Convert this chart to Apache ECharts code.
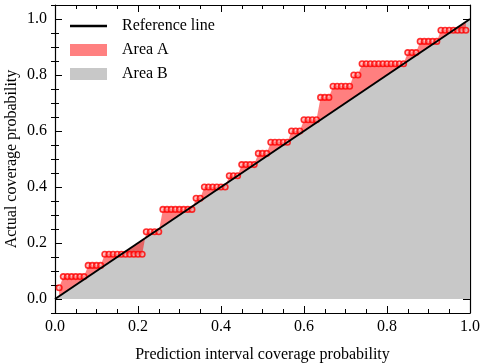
<!DOCTYPE html>
<html>
<head>
<meta charset="utf-8">
<script src="https://cdn.jsdelivr.net/npm/echarts@6/dist/echarts.min.js"></script>
<style>html,body{margin:0;padding:0;background:#fff}#c{width:484px;height:364px}</style>
</head>
<body>
<div id="c"></div>
<script>
// Prediction interval coverage probability (x)
const predicted = [0.01,0.02,0.03,0.04,0.05,0.06,0.07,0.08,0.09,0.10,
  0.11,0.12,0.13,0.14,0.15,0.16,0.17,0.18,0.19,0.20,
  0.21,0.22,0.23,0.24,0.25,0.26,0.27,0.28,0.29,0.30,
  0.31,0.32,0.33,0.34,0.35,0.36,0.37,0.38,0.39,0.40,
  0.41,0.42,0.43,0.44,0.45,0.46,0.47,0.48,0.49,0.50,
  0.51,0.52,0.53,0.54,0.55,0.56,0.57,0.58,0.59,0.60,
  0.61,0.62,0.63,0.64,0.65,0.66,0.67,0.68,0.69,0.70,
  0.71,0.72,0.73,0.74,0.75,0.76,0.77,0.78,0.79,0.80,
  0.81,0.82,0.83,0.84,0.85,0.86,0.87,0.88,0.89,0.90,
  0.91,0.92,0.93,0.94,0.95,0.96,0.97,0.98,0.99];
// Actual coverage probability (y)
const actual = [0.04,0.08,0.08,0.08,0.08,0.08,0.08,0.12,0.12,0.12,
  0.12,0.16,0.16,0.16,0.16,0.16,0.16,0.16,0.16,0.16,
  0.16,0.24,0.24,0.24,0.24,0.32,0.32,0.32,0.32,0.32,
  0.32,0.32,0.32,0.36,0.36,0.40,0.40,0.40,0.40,0.40,
  0.40,0.44,0.44,0.44,0.48,0.48,0.48,0.48,0.52,0.52,
  0.52,0.56,0.56,0.56,0.56,0.56,0.60,0.60,0.60,0.64,
  0.64,0.64,0.64,0.72,0.72,0.72,0.76,0.76,0.76,0.76,
  0.76,0.80,0.80,0.84,0.84,0.84,0.84,0.84,0.84,0.84,
  0.84,0.84,0.84,0.84,0.88,0.88,0.88,0.92,0.92,0.92,
  0.92,0.92,0.96,0.96,0.96,0.96,0.96,0.96,0.96];
// Reference line end points
const refX = [0, 1];
const refY = [0, 1];
// Tick values
const xMajorTicks = [0, 0.2, 0.4, 0.6, 0.8, 1.0];
const yMajorTicks = [0, 0.2, 0.4, 0.6, 0.8, 1.0];
const yMinorTicks = [-0.05,0.05,0.1,0.15,0.25,0.3,0.35,0.45,0.5,0.55,0.65,0.7,0.75,0.85,0.9,0.95,1.05];

const FONT = '"Liberation Serif","Times New Roman","DejaVu Serif",serif';
const pts = predicted.map((x, i) => [x, actual[i]]);
const ref = refX.map((x, i) => [x, refY[i]]);

const majorX = (pos, labels) => ({
  type: 'value', position: pos, min: 0, max: 1, interval: 0.2,
  axisLine: {show: true, onZero: false, lineStyle: {color: '#000', width: 1.2}},
  axisTick: {show: true, inside: true, length: 7, customValues: xMajorTicks, lineStyle: {color: '#000', width: 1}},
  minorTick: {show: true, splitNumber: 4, length: 4, lineStyle: {color: '#000', width: 1}},
  splitLine: {show: false},
  axisLabel: {show: labels, margin: 6, color: '#000', fontSize: 16, fontFamily: FONT,
    formatter: v => v.toFixed(1)}
});
const majorY = (pos, labels) => ({
  type: 'value', position: pos, min: -0.05, max: 1.05,
  axisLine: {show: true, onZero: false, lineStyle: {color: '#000', width: 1.2}},
  axisTick: {show: true, inside: true, length: 7, customValues: yMajorTicks, lineStyle: {color: '#000', width: 1}},
  splitLine: {show: false},
  axisLabel: {show: labels, customValues: yMajorTicks, margin: 8, color: '#000', fontSize: 16, fontFamily: FONT,
    formatter: v => v.toFixed(1)}
});
const minorY = (pos) => ({
  type: 'value', position: pos, min: -0.05, max: 1.05,
  axisLine: {show: false},
  axisTick: {show: true, inside: true, length: 4, customValues: yMinorTicks, lineStyle: {color: '#000', width: 1}},
  splitLine: {show: false},
  axisLabel: {show: false}
});

const xb = majorX('bottom', true);
xb.name = 'Prediction interval coverage probability';
xb.nameLocation = 'middle';
xb.nameGap = 34;
xb.nameMoveOverlap = false;
xb.nameTextStyle = {color: '#000', fontSize: 16, fontFamily: FONT};
const yl = majorY('left', true);
yl.name = 'Actual coverage probability';
yl.nameLocation = 'middle';
yl.nameGap = 35;
yl.nameMoveOverlap = false;
yl.nameTextStyle = {color: '#000', fontSize: 16, fontFamily: FONT};

const chart = echarts.init(document.getElementById('c'), null, {renderer: 'canvas'});
chart.setOption({
  animation: false,
  backgroundColor: '#fff',
  grid: {left: 55, right: 14, top: 5, bottom: 51, containLabel: false, outerBoundsMode: 'none'},
  xAxis: [xb, majorX('top', false)],
  yAxis: [yl, majorY('right', false), minorY('left'), minorY('right')],
  legend: {
    left: 65, top: 13, orient: 'vertical', itemWidth: 37, itemHeight: 12, itemGap: 8,
    textStyle: {color: '#000', fontSize: 16, fontFamily: FONT, padding: [0, 0, 0, 10]},
    data: [
      {name: 'Reference line', icon: 'path://M0,0L37,0L37,2.4L0,2.4Z', itemStyle: {color: '#000'}},
      {name: 'Area A', icon: 'rect', itemStyle: {color: '#ff8080'}},
      {name: 'Area B', icon: 'rect', itemStyle: {color: '#c8c8c8'}}
    ]
  },
  series: [
    {
      name: 'Area B', type: 'line', data: ref, symbol: 'none', z: 1,
      itemStyle: {color: '#c8c8c8'},
      lineStyle: {width: 0, color: '#c8c8c8'},
      areaStyle: {color: '#c8c8c8', opacity: 1, origin: 0}
    },
    {
      name: 'Area A', type: 'custom', data: pts, z: 2, clip: true,
      itemStyle: {color: 'rgba(255,0,0,0.5)'},
      encode: {x: 0, y: 1},
      renderItem: function (params, api) {
        if (params.dataIndex !== 0) return null;
        const poly = [];
        for (let i = 0; i < predicted.length; i++) poly.push(api.coord([predicted[i], actual[i]]));
        for (let i = predicted.length - 1; i >= 0; i--) poly.push(api.coord([predicted[i], predicted[i]]));
        return {type: 'polygon', shape: {points: poly}, style: {fill: 'rgba(255,0,0,0.5)'}};
      }
    },
    {
      name: 'points', type: 'scatter', data: pts, z: 3,
      symbol: 'circle', symbolSize: 5.5,
      itemStyle: {color: 'rgba(255,150,150,0.7)', borderColor: '#ff0000', borderWidth: 1.6}
    },
    {
      name: 'Reference line', type: 'line', data: ref, symbol: 'none', z: 4,
      itemStyle: {color: '#000'},
      lineStyle: {color: '#000', width: 2}
    }
  ]
});
</script>
</body>
</html>
